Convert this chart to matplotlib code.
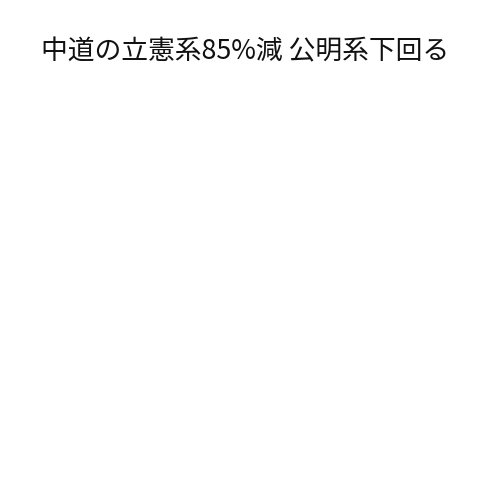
import matplotlib.pyplot as plt

plt.rcParams['font.family'] = ['Noto Sans CJK JP', 'DejaVu Sans']

title = '中道の立憲系85%減 公明系下回る'

fig = plt.figure(figsize=(5, 5), dpi=100)
fig.text(0.49, 0.896, title, ha='center', va='center', fontsize=19.3, color='#111111')

plt.savefig('out.png', dpi=100, facecolor='white')
